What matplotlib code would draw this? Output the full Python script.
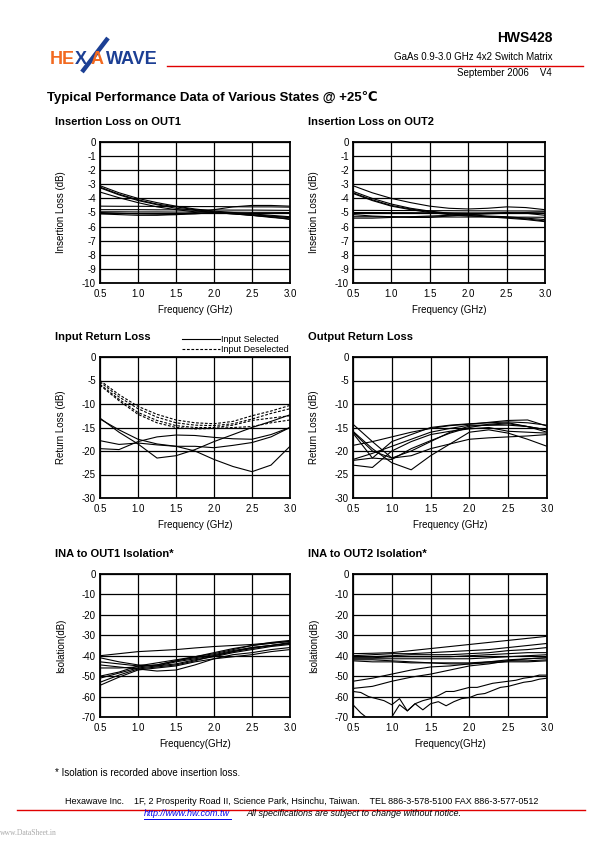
import matplotlib
matplotlib.use('Agg')
import matplotlib.pyplot as plt
from matplotlib.lines import Line2D

plt.rcParams['font.family'] = ['Liberation Sans', 'DejaVu Sans']
plt.rcParams['font.size'] = 7
plt.rcParams['axes.unicode_minus'] = False

# ---- data ----
freq = [0.5, 0.75, 1.0, 1.25, 1.5, 1.75, 2.0, 2.25, 2.5, 2.75, 3.0]
freq_fine = [0.5, 0.6, 0.7, 0.8, 0.9, 1.0, 1.1, 1.2, 1.3, 1.4, 1.5, 1.6, 1.7,
             1.8, 1.9, 2.0, 2.1, 2.2, 2.3, 2.4, 2.5, 2.6, 2.7, 2.8, 2.9, 3.0]

il_out1 = [
    [-3.1, -3.6, -4.0, -4.3, -4.55, -4.75, -4.9, -5.0, -5.1, -5.2, -5.3],
    [-3.2, -3.7, -4.1, -4.4, -4.6, -4.8, -4.95, -5.05, -5.15, -5.25, -5.35],
    [-3.25, -3.75, -4.15, -4.45, -4.7, -4.85, -5.0, -5.1, -5.2, -5.35, -5.45],
    [-3.55, -3.95, -4.3, -4.6, -4.8, -4.95, -5.0, -5.1, -5.2, -5.3, -5.5],
    [-4.55, -4.56, -4.56, -4.57, -4.57, -4.58, -4.58, -4.59, -4.6, -4.6, -4.62],
    [-4.8, -4.8, -4.8, -4.81, -4.81, -4.82, -4.82, -4.83, -4.83, -4.84, -4.85],
    [-4.95, -4.95, -4.96, -4.96, -4.97, -4.97, -4.98, -4.98, -4.99, -4.99, -5.0],
    [-5.1, -5.15, -5.2, -5.2, -5.15, -5.0, -4.8, -4.6, -4.5, -4.5, -4.55],
    [-5.0, -5.05, -5.1, -5.12, -5.15, -5.1, -5.0, -5.05, -5.2, -5.3, -5.35],
]

il_out2 = [
    [-3.1, -3.6, -4.0, -4.3, -4.55, -4.7, -4.75, -4.7, -4.6, -4.65, -4.8],
    [-3.5, -4.0, -4.4, -4.7, -4.9, -5.05, -5.15, -5.25, -5.3, -5.4, -5.5],
    [-3.6, -4.1, -4.5, -4.75, -4.95, -5.1, -5.2, -5.3, -5.35, -5.45, -5.6],
    [-3.65, -4.15, -4.55, -4.8, -5.0, -5.15, -5.25, -5.3, -5.4, -5.5, -5.65],
    [-4.85, -4.85, -4.86, -4.86, -4.87, -4.87, -4.88, -4.88, -4.89, -4.89, -4.9],
    [-5.0, -5.0, -5.01, -5.01, -5.02, -5.02, -5.03, -5.03, -5.04, -5.04, -5.05],
    [-5.3, -5.3, -5.3, -5.31, -5.31, -5.32, -5.32, -5.32, -5.33, -5.33, -5.34],
    [-5.15, -5.25, -5.3, -5.35, -5.35, -5.25, -5.15, -5.05, -5.0, -5.05, -5.2],
    [-5.4, -5.4, -5.35, -5.3, -5.25, -5.2, -5.15, -5.1, -5.05, -5.0, -4.95],
]

irl_selected = [
    [-13.0, -16.0, -18.5, -21.5, -21.0, -19.7, -18.0, -16.5, -15.0, -13.7, -12.3],
    [-13.2, -15.5, -17.5, -18.5, -19.0, -20.0, -21.8, -23.3, -24.4, -23.0, -19.0],
    [-17.8, -18.6, -18.3, -18.7, -19.0, -19.0, -19.3, -18.8, -18.2, -17.0, -15.0],
    [-19.5, -19.7, -18.0, -17.0, -16.6, -16.7, -17.1, -17.4, -17.5, -16.5, -15.0],
]

irl_deselected = [
    [-5.0, -8.0, -10.5, -12.2, -13.4, -14.0, -14.2, -13.7, -12.5, -11.5, -10.3],
    [-5.3, -8.5, -11.0, -12.8, -14.0, -14.5, -14.6, -14.2, -13.2, -12.0, -11.0],
    [-5.8, -9.0, -11.8, -13.5, -14.6, -15.0, -15.0, -14.5, -13.5, -13.0, -12.5],
    [-6.0, -9.3, -12.2, -14.0, -15.0, -15.3, -15.2, -15.0, -14.8, -14.0, -13.4],
]

orl = [
    [-14.3, -18.0, -21.5, -20.0, -18.0, -16.0, -14.7, -14.5, -14.5, -14.8, -15.5],
    [-15.8, -19.5, -22.5, -24.0, -21.0, -18.5, -16.0, -15.5, -16.2, -17.5, -19.0],
    [-16.0, -20.0, -21.5, -21.0, -19.5, -18.5, -17.5, -17.2, -17.0, -16.8, -16.5],
    [-22.0, -21.5, -18.0, -16.5, -15.0, -14.5, -14.2, -14.0, -13.8, -14.0, -14.5],
    [-23.0, -23.5, -20.0, -18.0, -16.5, -15.8, -15.3, -15.0, -15.8, -16.0, -16.2],
    [-21.8, -20.5, -19.0, -17.5, -16.0, -15.2, -14.5, -14.5, -14.2, -14.8, -15.5],
    [-16.2, -21.5, -21.8, -19.5, -17.8, -16.2, -15.0, -14.3, -14.0, -14.8, -16.0],
    [-18.8, -18.0, -17.0, -16.0, -15.2, -14.6, -14.3, -13.9, -13.5, -13.4, -14.7],
]

iso_out1 = [
    [-40.0, -39.0, -38.0, -37.5, -37.0, -36.2, -35.5, -35.0, -34.5, -33.7, -33.0],
    [-41.0, -43.0, -44.5, -45.0, -43.0, -41.5, -40.0, -38.0, -36.0, -35.0, -34.0],
    [-43.0, -44.0, -45.0, -44.5, -42.5, -40.5, -38.5, -36.5, -35.0, -33.5, -32.5],
    [-44.5, -45.5, -46.5, -47.5, -47.0, -44.5, -41.5, -40.5, -39.5, -38.0, -37.0],
    [-46.0, -46.0, -45.5, -44.5, -42.5, -41.0, -39.5, -37.5, -36.0, -35.0, -34.0],
    [-50.0, -48.0, -45.0, -43.5, -42.0, -40.5, -39.0, -37.0, -35.0, -34.0, -33.0],
    [-51.0, -48.5, -46.0, -45.0, -44.0, -42.0, -40.5, -38.5, -37.0, -35.5, -34.5],
    [-54.5, -50.5, -47.0, -46.0, -45.0, -43.0, -41.5, -39.5, -38.5, -37.0, -36.0],
    [-53.0, -49.5, -46.5, -45.5, -44.5, -42.5, -40.0, -38.0, -36.5, -35.0, -33.5],
]

iso_out2 = [
    [-39.0, -38.8, -38.5, -37.5, -36.5, -35.5, -34.5, -33.5, -32.5, -31.5, -30.5],
    [-40.0, -39.5, -39.0, -39.0, -38.5, -38.0, -37.5, -37.0, -36.0, -35.0, -34.0],
    [-40.5, -40.5, -40.0, -39.5, -39.5, -39.5, -39.0, -38.5, -37.5, -37.0, -36.0],
    [-41.0, -41.0, -40.5, -40.5, -40.5, -40.5, -40.0, -39.5, -39.0, -38.5, -38.5],
    [-41.5, -41.5, -41.5, -41.5, -41.5, -41.5, -41.5, -41.0, -40.5, -40.0, -39.5],
    [-42.0, -42.0, -42.5, -43.0, -43.5, -43.5, -43.5, -43.0, -42.5, -42.5, -42.0],
    [-42.5, -43.0, -43.0, -43.5, -43.5, -44.0, -44.0, -43.5, -43.0, -43.0, -42.5],
    [-52.5, -51.0, -49.0, -47.0, -45.5, -45.0, -44.0, -43.0, -42.0, -41.5, -41.0],
    [-56.0, -55.0, -52.5, -50.5, -49.0, -47.0, -45.0, -44.0, -42.5, -41.5, -41.0],
]

iso_out2_noisy = [
    [-57.5, -58.0, -60.0, -61.0, -62.0, -64.0, -61.0, -67.0, -63.5, -62.0, -61.0,
     -59.5, -57.5, -57.5, -56.5, -55.5, -55.5, -54.5, -53.5, -53.0, -52.5, -52.0,
     -51.0, -50.5, -49.5, -49.5],
    [-64.0, -68.0, -71.0, -72.0, -72.0, -70.0, -64.0, -67.0, -63.5, -66.5, -63.5,
     -62.5, -64.5, -62.5, -61.0, -60.5, -59.0, -58.5, -57.0, -55.5, -55.0, -54.0,
     -53.0, -52.5, -51.5, -51.0],
]

x_ticks = [0.5, 1.0, 1.5, 2.0, 2.5, 3.0]

W, H = 595, 842
fig = plt.figure(figsize=(W / 100, H / 100), dpi=100)


def fx(px):
    return px / W


def fy(py):
    return 1 - py / H


def panel(left, top, right, bottom, title, ylim, ystep, ylabel, xlabel):
    w, h = right - left, bottom - top
    ax = fig.add_axes([fx(left), fy(bottom), w / W, h / H])
    ax.set_xlim(0.5, 3.0)
    ax.set_ylim(ylim, 0)
    ax.set_xticks(x_ticks)
    ax.set_xticklabels(['%.1f' % v for v in x_ticks])
    ax.set_yticks(range(ylim, 1, ystep))
    ax.grid(True, color='black', linewidth=0.9)
    for s in ax.spines.values():
        s.set_linewidth(1.3)
    ax.tick_params(length=0, labelsize=7)
    ax.tick_params(axis='y', pad=3)
    ax.tick_params(axis='x', pad=4)
    ax.set_ylabel(ylabel, fontsize=7)
    ax.yaxis.set_label_coords(-34 / w, 0.5)
    ax.set_xlabel(xlabel, fontsize=7)
    ax.xaxis.set_label_coords(0.5, -22 / h)
    fig.text(fx(left - 45), fy(top - 20), title, fontsize=8, fontweight='bold', va='center')
    return ax


lw = 0.8

ax1 = panel(100, 142, 290, 283, 'Insertion Loss on OUT1', -10, 1,
            'Insertion Loss (dB)', 'Frequency (GHz)')
for c in il_out1:
    ax1.plot(freq, c, color='black', linewidth=lw)

ax2 = panel(353, 142, 545, 283, 'Insertion Loss on OUT2', -10, 1,
            'Insertion Loss (dB)', 'Frequency (GHz)')
for c in il_out2:
    ax2.plot(freq, c, color='black', linewidth=lw)

ax3 = panel(100, 357, 290, 498, 'Input Return Loss', -30, 5,
            'Return Loss (dB)', 'Frequency (GHz)')
for i, c in enumerate(irl_selected):
    ax3.plot(freq, c, color='black', linewidth=lw,
             label='Input Selected' if i == 0 else None)
for i, c in enumerate(irl_deselected):
    ax3.plot(freq, c, color='black', linewidth=lw, linestyle=(0, (2.5, 1.5)),
             label='Input Deselected' if i == 0 else None)
ax3.legend(loc='lower right', bbox_to_anchor=(1.01, 1.0), frameon=False,
           fontsize=6.5, handlelength=4.2, handletextpad=0.2, labelspacing=0.15,
           borderpad=0.1, borderaxespad=0.2)

ax4 = panel(353, 357, 547, 498, 'Output Return Loss', -30, 5,
            'Return Loss (dB)', 'Frequency (GHz)')
for c in orl:
    ax4.plot(freq, c, color='black', linewidth=lw)

ax5 = panel(100, 574, 290, 717, 'INA to OUT1 Isolation*', -70, 10,
            'Isolation(dB)', 'Frequency(GHz)')
for c in iso_out1:
    ax5.plot(freq, c, color='black', linewidth=lw)

ax6 = panel(353, 574, 547, 717, 'INA to OUT2 Isolation*', -70, 10,
            'Isolation(dB)', 'Frequency(GHz)')
for c in iso_out2:
    ax6.plot(freq, c, color='black', linewidth=lw)
for c in iso_out2_noisy:
    ax6.plot(freq_fine, c, color='black', linewidth=lw)

# ---- header: logo ----
orange = '#F26A21'
blue = '#1C3F94'
logo_font = dict(fontsize=13, fontweight='bold', va='baseline')
fig.text(fx(50), fy(64.5), 'HE', color=orange, **logo_font)
fig.text(fx(75), fy(64.5), 'X', color=blue, **logo_font)
fig.text(fx(91), fy(64.5), 'A', color=orange, **logo_font)
fig.text(fx(106), fy(64.5), 'WAVE', color=blue, **logo_font)
fig.add_artist(Line2D([fx(108), fx(82)], [fy(38), fy(72)], color=blue, linewidth=3.2,
                      solid_capstyle='butt'))
fig.add_artist(Line2D([fx(167), fx(583)], [fy(65.5), fy(65.5)], color='#E00000', linewidth=1.0))

fig.text(fx(552), fy(38), 'HWS428', fontsize=10, fontweight='bold', ha='right', va='center')
fig.text(fx(552), fy(57), 'GaAs 0.9-3.0 GHz 4x2 Switch Matrix', fontsize=7, ha='right', va='center')
fig.text(fx(552), fy(73.5), 'September 2006    V4', fontsize=7, ha='right', va='center')
fig.text(fx(47), fy(97), 'Typical Performance Data of Various States @ +25\u2103',
         fontsize=9.5, fontweight='bold', va='center')

# ---- footer ----
fig.text(fx(55), fy(773), '* Isolation is recorded above insertion loss.', fontsize=7, va='center')
fig.text(fx(65), fy(801), 'Hexawave Inc.    1F, 2 Prosperity Road II, Science Park, Hsinchu, Taiwan.    '
         'TEL 886-3-578-5100 FAX 886-3-577-0512', fontsize=6.5, va='center')
fig.add_artist(Line2D([fx(17), fx(585)], [fy(809.5), fy(809.5)], color='#E00000', linewidth=1.0))
fig.text(fx(144), fy(814), 'http://www.hw.com.tw', fontsize=6.5, style='italic',
         color='#0000EE', va='center')
fig.add_artist(Line2D([fx(144), fx(231)], [fy(818.5), fy(818.5)], color='#0000EE', linewidth=0.7))
fig.text(fx(246), fy(814), 'All specifications are subject to change without notice.',
         fontsize=6.5, style='italic', va='center')
fig.text(fx(0), fy(833), 'www.DataSheet.in', fontsize=5.5, color='#AAAAAA',
         family='Liberation Serif', va='center')

fig.savefig('out.png', dpi=100)
